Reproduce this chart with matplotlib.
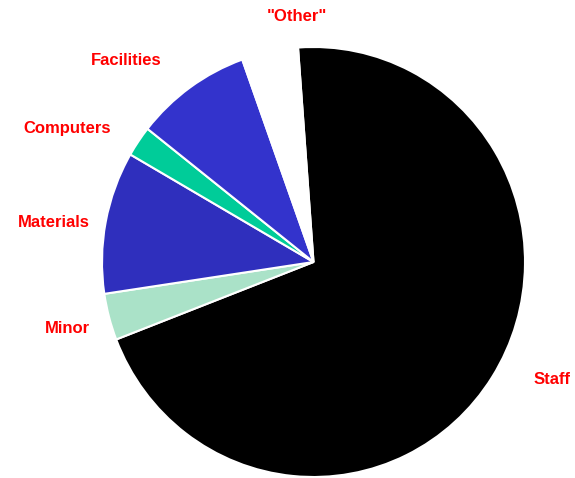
import matplotlib.pyplot as plt

labels = ['Staff', 'Minor', 'Materials', 'Computers', 'Facilities', '"Other"']
shares = [70.3, 3.5, 10.7, 2.3, 8.9, 4.3]
colors = ['#000000', '#aae2c8', '#2f2fbd', '#00cc99', '#3333cc', '#ffffff']

# label centres in data units (pie radius = 1)
label_x = [1.130, -1.163, -1.229, -1.163, -0.886, -0.078]
label_y = [-0.545, -0.307, 0.186, 0.623, 0.939, 1.142]

fig = plt.figure(figsize=(5.75, 4.78), dpi=100)
ax = fig.add_axes([0, 0, 1, 1])

ax.pie(shares, colors=colors, startangle=94.2, counterclock=False,
       wedgeprops=dict(edgecolor='white', linewidth=1.5))

for name, x, y in zip(labels, label_x, label_y):
    ax.text(x, y, name, ha='center', va='center', color='#ff0000',
            fontsize=12, fontweight='bold', family='Liberation Sans')

ax.set_aspect('auto')
ax.set_xlim(-313.5 / 211.5, (575 - 313.5) / 211.5)
ax.set_ylim(-(478 - 262) / 215, 262 / 215)
ax.axis('off')

fig.savefig('out.png', dpi=100)
